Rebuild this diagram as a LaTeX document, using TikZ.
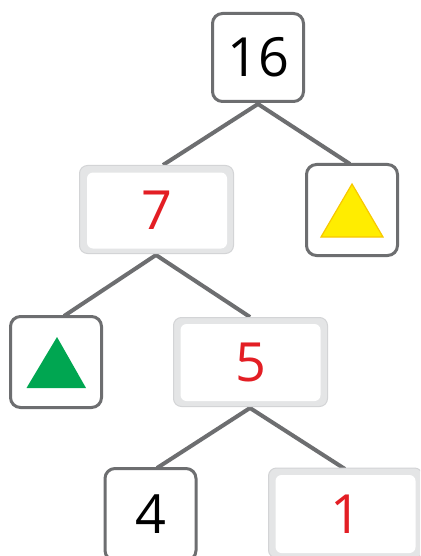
\documentclass[tikz,border=0pt]{standalone}
\usepackage{fontspec}
\setmainfont{Open Sans}
\definecolor{edge}{HTML}{6D6E70}
\definecolor{lgfill}{HTML}{E4E5E6}
\definecolor{lgedge}{HTML}{D3D4D6}
\definecolor{numred}{HTML}{E31E24}
\definecolor{ytri}{HTML}{FFED00}
\definecolor{ytriedge}{HTML}{F8C800}
\definecolor{gtri}{HTML}{00A651}
\begin{document}
\begin{tikzpicture}[x=1pt,y=-1pt,
  darkbox/.style={draw=edge, line width=3pt, fill=white, rounded corners=10pt,
    minimum width=91pt, minimum height=#1, inner sep=0pt},
  darkbox/.default=91pt,
  lightbox/.style={draw=lgedge, line width=1pt, fill=lgfill, rounded corners=8pt,
    minimum width=154pt, minimum height=#1, inner sep=0pt},
  lightbox/.default=88pt,
  innerbox/.style={fill=white, rounded corners=6pt, minimum width=140pt,
    minimum height=#1, inner sep=0pt},
  innerbox/.default=76pt,
  num/.style={font=\fontsize{54}{54}\selectfont, inner sep=0pt},
  link/.style={draw=edge, line width=4pt},
]
\useasboundingbox (0,0) rectangle (420,556);
\clip (0,0) rectangle (420,556);
\fill[white] (0,0) rectangle (420,556);

% links (drawn first, behind boxes)
\coordinate (c16) at (258,104);
\coordinate (t7) at (163,165);
\coordinate (ty) at (350,164);
\coordinate (c7) at (156,255);
\coordinate (tg) at (64,316);
\coordinate (t5) at (250,317);
\coordinate (c5) at (250,408);
\coordinate (t4) at (157,468);
\coordinate (t1) at (345,469);
\draw[link] (t7) -- (c16) -- (ty);
\draw[link] (tg) -- (c7) -- (t5);
\draw[link] (t4) -- (c5) -- (t1);

% top box 16
\node[darkbox=88pt] (n16) at (258,57.5) {};
\node[num, text=black] (l16) at (n16.center) {16};

% box 7
\node[lightbox] (n7) at (156.5,209.5) {};
\node[innerbox] (n7i) at (157,210.5) {};
\node[num, text=numred] (l7) at (n7i.center) {7};

% yellow triangle box
\node[darkbox] (ny) at (352,210) {};
\draw[fill=ytri, draw=ytriedge, line width=1.2pt, line join=miter]
  ([yshift=26pt]ny.center) -- ([xshift=-31pt,yshift=-27pt]ny.center)
  -- ([xshift=31pt,yshift=-27pt]ny.center) -- cycle;

% green triangle box
\node[darkbox] (ng) at (56,362) {};
\fill[gtri]
  ([xshift=1pt,yshift=25pt]ng.center) -- ([xshift=-29.5pt,yshift=-26pt]ng.center)
  -- ([xshift=30pt,yshift=-26pt]ng.center) -- cycle;

% box 5
\node[lightbox=89pt] (n5) at (250.5,362) {};
\node[innerbox=77pt] (n5i) at (250.5,362.5) {};
\node[num, text=numred] (l5) at (n5i.center) {5};

% box 4
\node[darkbox=92pt] (n4) at (150.5,514.5) {};
\node[num, text=black] (l4) at (n4.center) {4};

% box 1
\node[lightbox=90pt] (n1) at (345.5,513) {};
\node[innerbox=78pt] (n1i) at (345.5,514) {};
\node[num, text=numred] (l1) at (n1i.center) {1};
\end{tikzpicture}
\end{document}
